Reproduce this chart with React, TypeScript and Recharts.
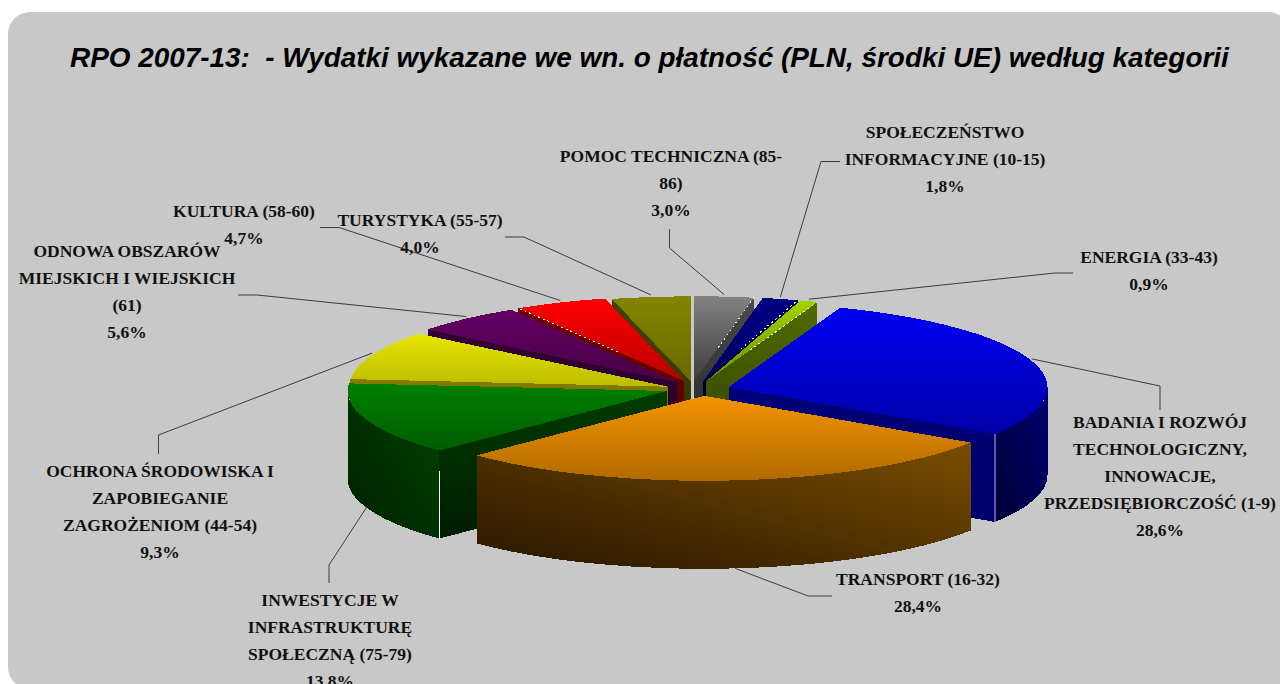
import { Pie, PieChart } from 'recharts';

// slices run clockwise from 12 o'clock
const categories = [
  ['POMOC TECHNICZNA (85-', '86)'],
  ['SPOŁECZEŃSTWO', 'INFORMACYJNE (10-15)'],
  ['ENERGIA (33-43)'],
  ['BADANIA I ROZWÓJ', 'TECHNOLOGICZNY,', 'INNOWACJE,', 'PRZEDSIĘBIORCZOŚĆ (1-9)'],
  ['TRANSPORT (16-32)'],
  ['INWESTYCJE W', 'INFRASTRUKTURĘ', 'SPOŁECZNĄ (75-79)'],
  ['OCHRONA ŚRODOWISKA I', 'ZAPOBIEGANIE', 'ZAGROŻENIOM (44-54)'],
  ['ODNOWA OBSZARÓW', 'MIEJSKICH I WIEJSKICH', '(61)'],
  ['KULTURA (58-60)'],
  ['TURYSTYKA (55-57)'],
];
const shares = [3.0, 1.8, 0.9, 28.6, 28.4, 13.8, 9.3, 5.6, 4.7, 4.0];

const data = categories.map((lines, i) => ({ name: lines.join(' '), value: shares[i] }));

// [top of face, front of face, cut wall top, cut wall bottom, rim wall light, rim wall dark]
const SHADES = [
  ['#828282', '#3c3c3c', '#4a4a4a', '#202020', '#404040', '#202020'],
  ['#000084', '#000064', '#000050', '#000020', '#000050', '#000020'],
  ['#a0d400', '#6c9000', '#526c00', '#2c3c00', '#526c00', '#2c3c00'],
  ['#0000f4', '#0000a8', '#000078', '#00006c', '#000070', '#000038'],
  ['#f59400', '#b06a00', '#6e4700', '#2c1a00', '#7a4e00', '#281600'],
  ['#008000', '#005c00', '#003c00', '#001c00', '#004400', '#001f00'],
  ['#e6e600', '#bcbc00', '#847c00', '#5c5800', '#847c00', '#5c5800'],
  ['#640064', '#480048', '#340034', '#200020', '#340034', '#200020'],
  ['#ff0000', '#b80000', '#700000', '#500000', '#700000', '#500000'],
  ['#848400', '#6a6a00', '#444400', '#303000', '#444400', '#303000'],
];

// back to front
const PAINT_ORDER = [9, 0, 8, 1, 7, 2, 6, 3, 5, 4];

const CX = 697;
const CY = 390;
const RADIUS = 319;
const TILT = 85 / 319;
const DEPTH = 88;
const EXPLODE = 0.104;
const NUDGE = [[-6, 0], [-2, 0], [-2, 0], [0, 0], [4, -3], [1, -2], [2, 0], [2, -1], [0, -1], [-2, 0]];

// rendering leftovers of the original: thin lines on some slice corners and edges
const CORNER_LINE: Record<number, string> = { 3: '#5a5ab0', 5: '#ffffff' };
const DOTTED_EDGE: Record<number, 'start' | 'end'> = { 0: 'end', 1: 'end', 2: 'end', 8: 'start' };

// [line centre x, first baseline y]
const LABEL_POS = [
  [671, 162], [945, 138], [1149, 263], [1160, 428], [918, 585],
  [330, 606], [160, 477], [127, 257], [244, 217], [420, 226],
];
// leader line start and elbow
const LEADERS = [
  [[669.5, 229], [669.5, 248]],
  [[840, 161.5], [821, 161.5]],
  [[1073, 273], [1055, 273]],
  [[1160, 410], [1160, 386]],
  [[832, 596], [808, 596]],
  [[329, 583], [329, 565]],
  [[158.5, 454], [158.5, 435]],
  [[238, 295], [257, 295]],
  [[320, 227.5], [339, 227.5]],
  [[505, 237], [524, 237]],
];

const LABEL_FONT = '"Liberation Serif", serif';
const rad = (d: number) => (d * Math.PI) / 180;

function geometry(p: any) {
  const a0 = 90 - p.startAngle;
  const a1 = 90 - p.endAngle;
  const mid = (a0 + a1) / 2;
  const r = p.outerRadius;
  const ry = r * TILT;
  const [nx, ny] = NUDGE[p.index];
  const x = p.cx + EXPLODE * r * Math.sin(rad(mid)) + nx;
  const y = p.cy - EXPLODE * ry * Math.cos(rad(mid)) + ny;
  const at = (a: number, dy = 0): [number, number] => [x + r * Math.sin(rad(a)), y - ry * Math.cos(rad(a)) + dy];
  return { a0, a1, mid, r, ry, x, y, at };
}

function SliceShape({ slice, ...p }: any) {
  if (p.index !== slice) return null;
  const { a0, a1, r, ry, x, y, at } = geometry(p);
  const s = SHADES[p.index];
  const id = `slice-${p.index}`;
  const [sx, sy] = at(a0);
  const [ex, ey] = at(a1);
  const large = a1 - a0 > 180 ? 1 : 0;
  const face = `M${x},${y} L${sx},${sy} A${r},${ry} 0 ${large} 1 ${ex},${ey} Z`;
  const cut = (a: number) => {
    const [ox, oy] = at(a);
    return `M${x},${y} L${ox},${oy} L${ox},${oy + DEPTH} L${x},${y + DEPTH} Z`;
  };
  const rimFrom = Math.max(a0, 90);
  const rimTo = Math.min(a1, 270);
  let rim = '';
  let corner: [number, number] | null = null;
  if (rimTo > rimFrom) {
    const [px, py] = at(rimFrom);
    const [qx, qy] = at(rimTo);
    rim = `M${px},${py} A${r},${ry} 0 0 1 ${qx},${qy} L${qx},${qy + DEPTH} A${r},${ry} 0 0 0 ${px},${py + DEPTH} Z`;
    corner = Math.sin(rad(a1)) > 0 ? [qx, qy] : [px, py];
  }
  const dotted = DOTTED_EDGE[p.index];
  const dotEnd = dotted === 'start' ? [sx, sy] : [ex, ey];
  return (
    <g shapeRendering="crispEdges">
      <defs>
        <linearGradient id={`${id}-face`} x1="0" y1="0" x2="0" y2="1">
          <stop offset="0" stopColor={s[0]} />
          <stop offset="1" stopColor={s[1]} />
        </linearGradient>
        <linearGradient id={`${id}-cut`} x1="0" y1="0" x2="0" y2="1">
          <stop offset="0" stopColor={s[2]} />
          <stop offset="1" stopColor={s[3]} />
        </linearGradient>
        <linearGradient id={`${id}-rim`} x1="1" y1="0" x2="0" y2="1">
          <stop offset="0" stopColor={s[4]} />
          <stop offset="1" stopColor={s[5]} />
        </linearGradient>
      </defs>
      {Math.sin(rad(a0)) < 0 && <path d={cut(a0)} fill={`url(#${id}-cut)`} />}
      {Math.sin(rad(a1)) > 0 && <path d={cut(a1)} fill={`url(#${id}-cut)`} />}
      {rim && <path d={rim} fill={`url(#${id}-rim)`} />}
      <path d={face} fill={`url(#${id}-face)`} />
      {corner && CORNER_LINE[p.index] && (
        <line
          x1={corner[0]}
          y1={corner[1] + (p.index === 5 ? 20 : 0)}
          x2={corner[0]}
          y2={corner[1] + DEPTH}
          stroke={CORNER_LINE[p.index]}
          strokeWidth={1.5}
        />
      )}
      {dotted && (
        <line
          x1={x + 0.4 * (dotEnd[0] - x)}
          y1={y + 0.4 * (dotEnd[1] - y)}
          x2={dotEnd[0]}
          y2={dotEnd[1]}
          stroke="#f0f0f0"
          strokeWidth={1}
          strokeDasharray="2 3"
        />
      )}
    </g>
  );
}

function renderLabel(p: any) {
  const [x, y] = LABEL_POS[p.index];
  const lines = [...categories[p.index], `${shares[p.index].toFixed(1).replace('.', ',')}%`];
  return (
    <g key={p.index}>
      {lines.map((line, i) => (
        <text key={i} x={x} y={y + i * 27} textAnchor="middle" fontFamily={LABEL_FONT} fontWeight="bold" fontSize={17.5} fill="#111">
          {line}
        </text>
      ))}
    </g>
  );
}

function renderLeader(p: any) {
  const { mid, at } = geometry(p);
  // slices at the front hit the line on the bottom of the rim
  const front = Math.cos(rad(mid)) < -0.2 || (mid > 180 && mid < 260);
  const end = at(mid, front ? DEPTH : -2);
  const [from, elbow] = LEADERS[p.index];
  const pts = [from, elbow, end].map((c) => c.join(',')).join(' ');
  return <polyline key={p.index} points={pts} fill="none" stroke="#3c3c3c" strokeWidth={1} />;
}

export default function App() {
  return (
    <div style={{ position: 'absolute', left: 0, top: 0, width: 1280, height: 684, overflow: 'hidden', background: '#fff' }}>
      <div style={{ position: 'absolute', left: 8, top: 12, width: 1282, height: 677, borderRadius: 22, background: '#c8c8c8' }} />
      <div
        style={{
          position: 'absolute',
          left: 70,
          top: 42,
          whiteSpace: 'pre',
          fontFamily: '"Liberation Sans", sans-serif',
          fontWeight: 'bold',
          fontStyle: 'italic',
          fontSize: 27.9,
          color: '#000',
        }}
      >
        RPO 2007-13:  - Wydatki wykazane we wn. o płatność (PLN, środki UE) według kategorii
      </div>
      <div style={{ position: 'absolute', left: 0, top: 0 }}>
        <PieChart width={1280} height={684} margin={{ top: 0, right: 0, bottom: 0, left: 0 }}>
          {PAINT_ORDER.map((slice) => (
            <Pie
              key={slice}
              data={data}
              dataKey="value"
              nameKey="name"
              cx={CX}
              cy={CY}
              outerRadius={RADIUS}
              startAngle={90}
              endAngle={-270}
              stroke="none"
              isAnimationActive={false}
              shape={(p: any) => <SliceShape {...p} slice={slice} />}
              label={slice === 4 ? renderLabel : false}
              labelLine={slice === 4 ? renderLeader : false}
            />
          ))}
        </PieChart>
      </div>
    </div>
  );
}
